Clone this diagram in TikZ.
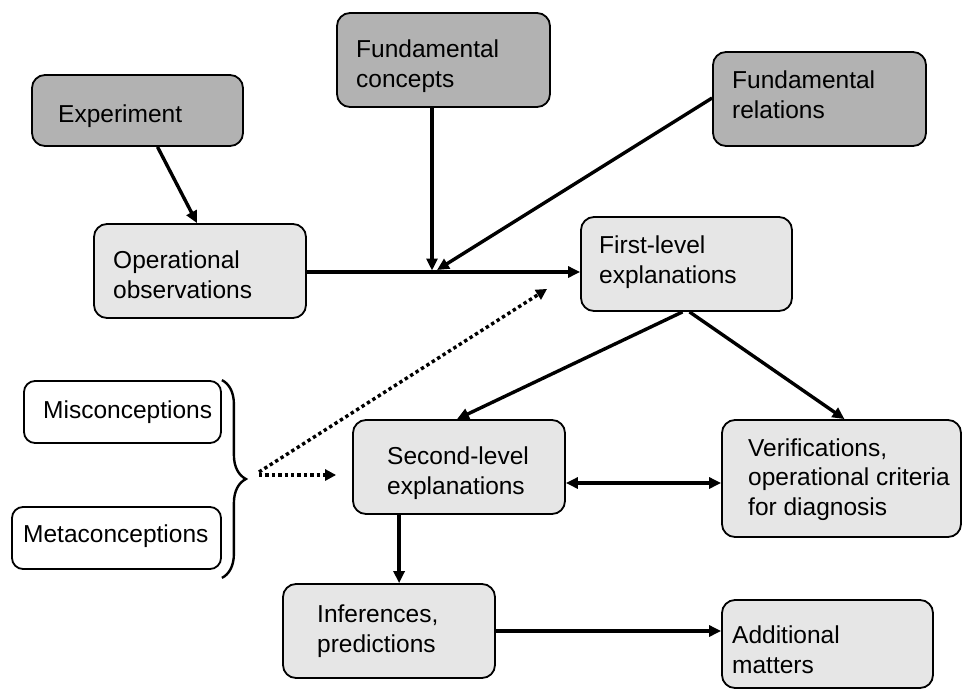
\documentclass[tikz,border=0pt]{standalone}
\usepackage{fontspec}
\setmainfont{Liberation Sans}
\usetikzlibrary{arrows.meta,calc,decorations.pathreplacing}
\definecolor{dk}{RGB}{178,178,178}
\definecolor{lt}{RGB}{230,230,230}
\begin{document}
\begin{tikzpicture}[x=1pt,y=-1pt,
  box/.style={draw=black, line width=1.8pt, rounded corners=13pt, inner sep=0pt},
  dkbox/.style={box, fill=dk},
  ltbox/.style={box, fill=lt},
  wbox/.style={box, fill=white, rounded corners=11pt},
  txt/.style={anchor=base west, inner sep=0pt, align=left, font=\fontsize{24.5}{29.5}\selectfont},
  arr/.style={line width=3.4pt, -{Triangle[length=12pt,width=11pt]}},
  dbl/.style={line width=3.4pt, {Triangle[length=12pt,width=11pt]}-{Triangle[length=12pt,width=11pt]}},
  dot/.style={line width=3.4pt, dash pattern=on 3.4pt off 3pt, -{Triangle[length=11pt,width=11pt]}},
]
\useasboundingbox (0,0) rectangle (962,689);
% boxes
\node[dkbox, minimum width=211pt, minimum height=71pt] (exp) at (137.5,110.5) {};
\node[dkbox, minimum width=213pt, minimum height=94pt] (con) at (443.5,60) {};
\node[dkbox, minimum width=213pt, minimum height=94pt] (rel) at (819.5,99) {};
\node[ltbox, minimum width=212pt, minimum height=94pt] (op) at (200,271) {};
\node[ltbox, minimum width=211pt, minimum height=94pt] (fl) at (686.5,264) {};
\node[wbox, minimum width=197pt, minimum height=62pt] (mis) at (122.5,412) {};
\node[wbox, minimum width=209pt, minimum height=62pt] (met) at (116.5,538) {};
\node[ltbox, minimum width=212pt, minimum height=94pt] (sl) at (459,467) {};
\node[ltbox, minimum width=239pt, minimum height=117pt] (vf) at (841.5,478.5) {};
\node[ltbox, minimum width=212pt, minimum height=94pt] (inf) at (389,631) {};
\node[ltbox, minimum width=211pt, minimum height=88pt] (ad) at (827.5,644) {};
% texts (anchor = baseline of the last line)
\node[txt] (expt) at (58,122) {Experiment};
\node[txt] (cont) at (356,87) {Fundamental\\concepts};
\node[txt] (relt) at (732,118) {Fundamental\\relations};
\node[txt] (opt) at (113,298) {Operational\\observations};
\node[txt] (flt) at (599,283) {First-level\\explanations};
\node[txt] (mist) at (43,418) {Misconceptions};
\node[txt] (mett) at (23,542) {Metaconceptions};
\node[txt] (slt) at (387,494) {Second-level\\explanations};
\node[txt] (vft) at (748,515) {Verifications,\\operational criteria\\for diagnosis};
\node[txt] (inft) at (317,652) {Inferences,\\predictions};
\node[txt] (adt) at (732,673) {Additional\\matters};
% brace
\coordinate (bt) at (259,475);
\draw[line width=2.4pt, decoration={brace, amplitude=24pt, aspect=0.5}, decorate] (mis.north east) -- ($(met.south east)+(0,8)$);
% connectors
\coordinate (j) at (432,272);
\draw[arr] ($(exp.south)+(20,0)$) -- ($(op.north)+(-3,0)$);
\draw[arr] (con.south -| j) -- ($(j)+(0,-1.5)$);
\draw[arr] ($(rel.west)+(0,-1)$) -- ($(j)+(5,-2)$);
\draw[arr] (op.east |- j) -- (fl.west |- j);
\draw[arr] ($(fl.south)+(-4,0)$) -- ($(sl.north)+(-2,0)$);
\draw[arr] ($(fl.south)+(3,0)$) -- ($(vf.north)+(3,0)$);
\draw[dbl] ($(sl.east)+(0,16)$) -- ($(vf.west)+(0,4.5)$);
\draw[arr] ($(sl.south west)+(47,0)$) -- ($(inf.north west)+(117,0)$);
\draw[arr] (inf.east) -- (ad.west |- inf.east);
\draw[dot] (bt) -- ($(sl.west)+(-16,8)$);
\draw[dot] ($(bt)+(0,-3)$) -- ($(fl.south west)+(-33,-23)$);
\end{tikzpicture}
\end{document}
